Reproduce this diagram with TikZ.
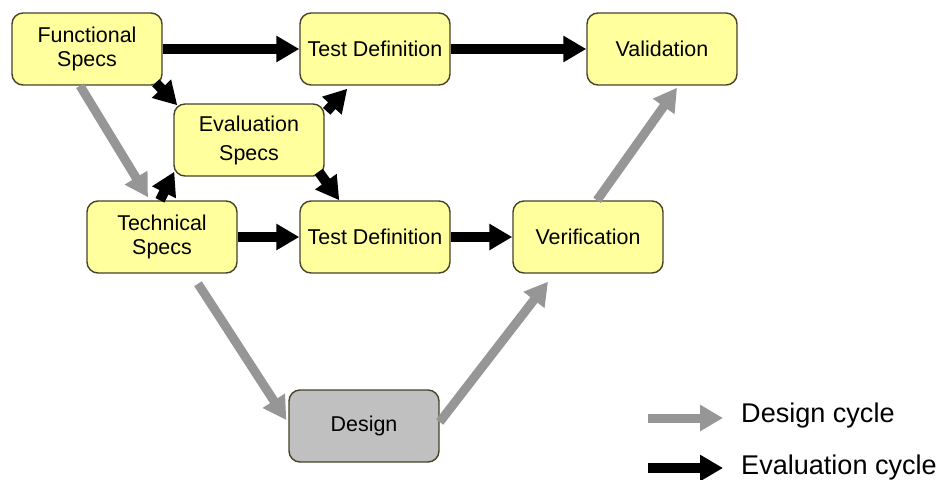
\documentclass[tikz,border=0pt]{standalone}
\usepackage{fontspec}
\setmainfont{Liberation Sans}
\usetikzlibrary{arrows.meta,calc}
\definecolor{specyellow}{RGB}{255,255,158}
\definecolor{boxedge}{RGB}{70,66,40}
\definecolor{designgray}{RGB}{192,192,192}
\definecolor{cyclegray}{RGB}{150,150,150}
\begin{document}
\begin{tikzpicture}[
		stage/.style={draw=boxedge, line width=0.8pt, fill=specyellow, rounded corners=0.22cm,
			minimum width=3cm, minimum height=1.44cm, align=center,
			font=\fontsize{12.2}{14}\selectfont},
		designstage/.style={stage, fill=designgray},
		evalarrow/.style={black, line width=0.2cm, -{Triangle[length=0.46cm, width=0.5cm]}},
		designarrow/.style={cyclegray, line width=0.18cm, -{Triangle[length=0.46cm, width=0.5cm]}},
		legendtext/.style={anchor=west, font=\fontsize{15.4}{18}\selectfont}]
			\useasboundingbox (0,0) rectangle (18.74,-9.58);
			\node[stage] (func) at (1.74,-0.98) {Functional\\Specs};
			\node[stage] (testtop) at (7.5,-0.98) {Test Definition};
			\node[stage] (valid) at (13.24,-0.98) {Validation};
			\node[stage, font=\fontsize{12.2}{16.5}\selectfont] (evalspec) at (4.98,-2.8) {Evaluation\\Specs};
			\node[stage] (tech) at (3.24,-4.74) {Technical\\Specs};
			\node[stage] (testmid) at (7.5,-4.74) {Test Definition};
			\node[stage] (verif) at (11.76,-4.74) {Verification};
			\node[designstage] (design) at (7.28,-8.52) {Design};
			\draw[evalarrow] (func) -- (testtop);
			\draw[evalarrow] (testtop) -- (valid);
			\draw[evalarrow] (tech) -- (testmid);
			\draw[evalarrow] (testmid) -- (verif);
			\draw[evalarrow] ($(func.south east)+(-0.14,0.06)$) -- ($(evalspec.north west)+(0.08,-0.04)$);
			\draw[evalarrow] ($(evalspec.north east)+(0.04,-0.16)$) -- ($(testtop.south west)+(0.96,-0.06)$);
			\draw[evalarrow] ($(evalspec.south east)+(-0.12,0.1)$) -- ($(testmid.north west)+(0.8,0)$);
			\draw[evalarrow] ($(tech.north)+(-0.04,0)$) -- ($(evalspec.south west)+(0.02,0.1)$);
			\draw[designarrow] ($(func.south)+(-0.14,0)$) -- ($(tech.north)+(-0.28,0.06)$);
			\draw[designarrow] ($(tech.south)+(0.72,-0.2)$) -- ($(design.west)+(-0.04,0.12)$);
			\draw[designarrow] ($(design.east)+(0,0.08)$) -- ($(verif.south)+(-0.8,-0.16)$);
			\draw[designarrow] ($(verif.north)+(0.18,0)$) -- ($(valid.south)+(0.3,-0.04)$);
			\node[legendtext] (lgdesign) at (14.7,-8.3) {Design cycle};
			\node[legendtext] (lgeval) at (14.7,-9.34) {Evaluation cycle};
			\coordinate (lgdesignstart) at (12.96,-8.36);
			\coordinate (lgdesignend) at (14.46,-8.36);
			\coordinate (lgevalstart) at (12.96,-9.36);
			\coordinate (lgevalend) at (14.46,-9.36);
			\draw[designarrow] (lgdesignstart) -- (lgdesignend);
			\draw[evalarrow] (lgevalstart) -- (lgevalend);
		\end{tikzpicture}
\end{document}
